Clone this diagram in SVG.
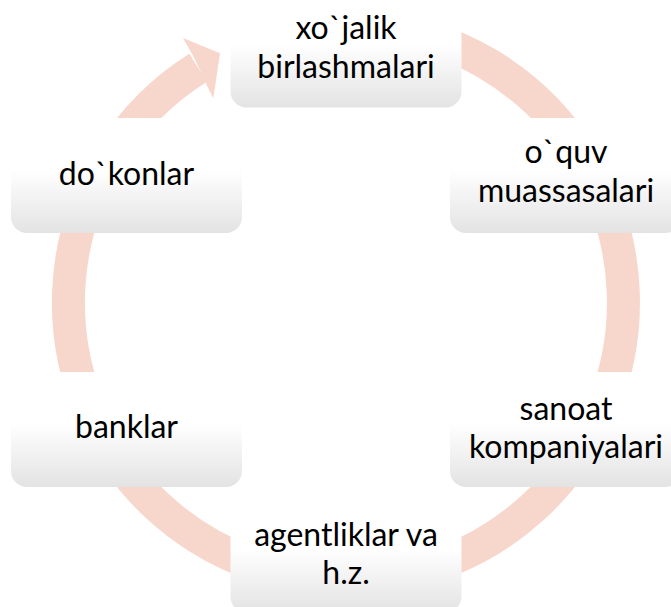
<svg xmlns="http://www.w3.org/2000/svg" width="671" height="607" viewBox="0 0 671 607">
<defs>
<linearGradient id="g" x1="0" y1="0" x2="0" y2="1">
<stop offset="0" stop-color="#ffffff"/>
<stop offset="0.45" stop-color="#ffffff"/>
<stop offset="1" stop-color="#e3e3e3"/>
</linearGradient>
<style>
.node rect{fill:url(#g);}
.node text{font-family:Lato,"Open Sans",sans-serif;font-size:32px;fill:#000;text-anchor:middle;}
.ring{fill:none;stroke:#F7D6CC;stroke-width:33;}
.head{fill:#F7D6CC;}
</style>
</defs>
<rect width="671" height="607" fill="#ffffff"/>
<g id="connectors">
<path class="ring" d="M370.2,26.1 A277.5,277.5 0 1 1 198.1,67.7"/>
<polygon class="head" points="193.5,56.5 191.7,53.3 183,38 220,53.3 213.3,98.3 205,81.7 207,85"/>
</g>
<g id="node1" class="node">
<rect x="230.5" y="-7.5" width="231" height="115" rx="16"/>
<text x="346" y="39">xo`jalik</text>
<text x="346" y="78">birlashmalari</text>
</g>
<g id="node2" class="node">
<rect x="450" y="118" width="231" height="115" rx="16"/>
<text x="566" y="163">o`quv</text>
<text x="566" y="202">muassasalari</text>
</g>
<g id="node3" class="node">
<rect x="450" y="372" width="231" height="115" rx="16"/>
<text x="566" y="420">sanoat</text>
<text x="566" y="458">kompaniyalari</text>
</g>
<g id="node4" class="node">
<rect x="230.5" y="497.5" width="231" height="115" rx="16"/>
<text x="346" y="546">agentliklar va</text>
<text x="346" y="584">h.z.</text>
</g>
<g id="node5" class="node">
<rect x="11" y="372" width="231" height="115" rx="16"/>
<text x="126.5" y="438">banklar</text>
</g>
<g id="node6" class="node">
<rect x="11" y="118" width="231" height="115" rx="16"/>
<text x="126.5" y="185">do`konlar</text>
</g>
</svg>
